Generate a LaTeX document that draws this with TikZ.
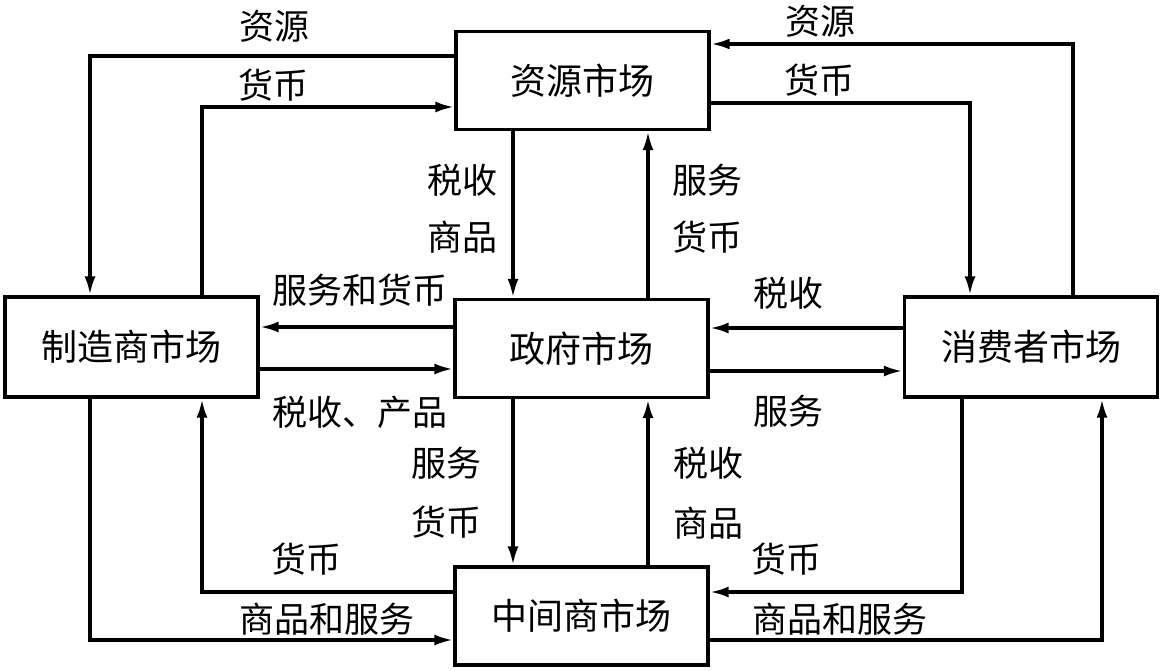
\documentclass[tikz,border=0pt]{standalone}
\usepackage{fontspec}
\setmainfont{Noto Sans CJK SC}
\usetikzlibrary{arrows.meta}
\begin{document}
\begin{tikzpicture}[x=1pt,y=-1pt,
  box/.style={draw,line width=3.4pt,minimum width=253pt,minimum height=98pt,inner sep=0pt,font=\fontsize{36}{40}\selectfont},
  lab/.style={inner sep=0pt,font=\fontsize{35}{38}\selectfont},
  arr/.style={line width=3.4pt,-{Latex[length=19pt,width=11pt]}}]
\useasboundingbox (0,0) rectangle (1162,671);
\node[box] (res) at (582.5,80.5) {资源市场};
\node[box] (gov) at (581.5,348.5) {政府市场};
\node[box] (mid) at (581.5,616) {中间商市场};
\node[box,minimum height=100pt] (man) at (131.5,347) {制造商市场};
\node[box,minimum height=100pt] (con) at (1031,347) {消费者市场};
% top left
\draw[arr] (res.west |- 0,56) -| (man.north -| 90,0);
\draw[arr] (man.north -| 202,0) |- (res.west |- 0,107);
% top right
\draw[arr] (con.north -| 1073,0) |- (res.east |- 0,44);
\draw[arr] (res.east |- 0,103) -| (con.north -| 970,0);
% res-gov
\draw[arr] (res.south -| 513,0) -- (gov.north -| 513,0);
\draw[arr] (gov.north -| 648,0) -- (res.south -| 648,0);
% gov-man
\draw[arr] (gov.west |- 0,327) -- (man.east |- 0,327);
\draw[arr] (man.east |- 0,369) -- (gov.west |- 0,369);
% gov-con
\draw[arr] (con.west |- 0,328) -- (gov.east |- 0,328);
\draw[arr] (gov.east |- 0,371) -- (con.west |- 0,371);
% gov-mid
\draw[arr] (gov.south -| 513,0) -- (mid.north -| 513,0);
\draw[arr] (mid.north -| 648,0) -- (gov.south -| 648,0);
% bottom left
\draw[arr] (mid.west |- 0,592) -| (man.south -| 202,0);
\draw[arr] (man.south -| 90,0) |- (mid.west |- 0,640);
% bottom right
\draw[arr] (con.south -| 962,0) |- (mid.east |- 0,592);
\draw[arr] (mid.east |- 0,640) -| (con.south -| 1102,0);
% labels
\node[lab] (l1) at (274,26) {资源};
\node[lab] (l2) at (273,85) {货币};
\node[lab] (l3) at (820,21) {资源};
\node[lab] (l4) at (819,80) {货币};
\node[lab] (l5) at (462,180) {税收};
\node[lab] (l6) at (462,237) {商品};
\node[lab] (l7) at (707,180) {服务};
\node[lab] (l8) at (707,237) {货币};
\node[lab] (l9) at (360,290) {服务和货币};
\node[lab] (l10) at (788,293) {税收};
\node[lab] (l11) at (360,412) {税收、产品};
\node[lab] (l12) at (788,411) {服务};
\node[lab] (l13) at (446,463) {服务};
\node[lab] (l14) at (446,522) {货币};
\node[lab] (l15) at (708,463) {税收};
\node[lab] (l16) at (708,523) {商品};
\node[lab] (l17) at (306,559) {货币};
\node[lab] (l18) at (327,619) {商品和服务};
\node[lab] (l19) at (786,559) {货币};
\node[lab] (l20) at (840,619) {商品和服务};
\end{tikzpicture}
\end{document}
